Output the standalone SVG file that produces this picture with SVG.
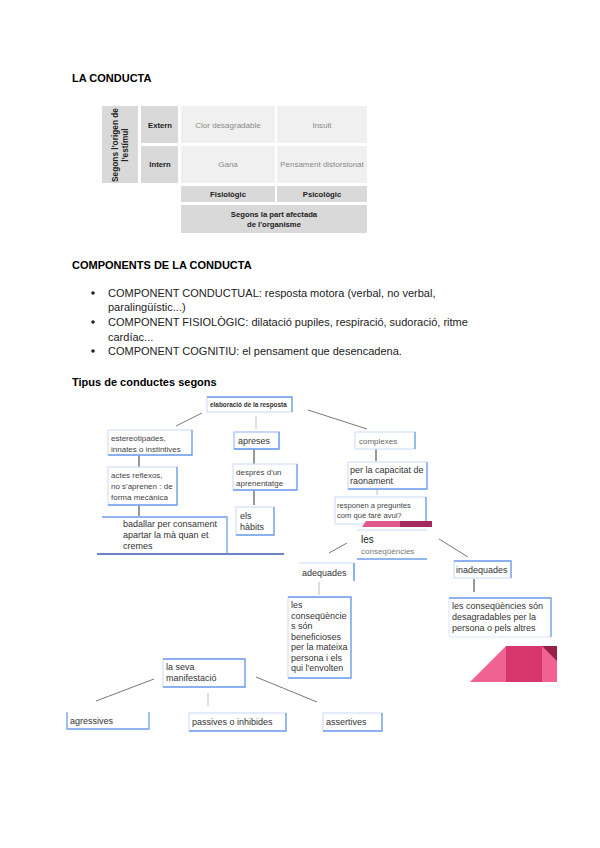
<svg xmlns="http://www.w3.org/2000/svg" width="600" height="848" viewBox="0 0 600 848">
<style>
text{font-family:"Liberation Sans",Arial,sans-serif;}
.h{font-size:11px;font-weight:bold;fill:#000;}
.p{font-size:11px;fill:#222;}
.tb{font-size:7.7px;font-weight:bold;fill:#222;}
.tl{font-size:8px;fill:#8a8a8a;}
.dk{fill:#d9d9d9;}
.lt{fill:#f0f0f0;}
.box{fill:#fff;stroke:#c9daf8;stroke-width:1;}
.edge{fill:none;stroke:#6d9eeb;stroke-width:1.3;}
.t{font-size:9px;fill:#333;}
.ts{font-size:8px;fill:#444;}
.c{stroke:#555;stroke-width:0.8;fill:none;}
.cv{stroke:#555;stroke-width:1.2;fill:none;}
.cl{stroke:#c8c8c8;stroke-width:1.2;fill:none;}
</style>
<rect width="600" height="848" fill="#fff"/>

<text class="h" x="72" y="82">LA CONDUCTA</text>

<g id="table">
  <rect class="dk" x="102" y="106" width="36" height="77"/>
  <rect class="dk" x="141" y="106" width="37" height="37"/>
  <rect class="dk" x="141" y="146" width="37" height="37"/>
  <rect class="lt" x="181" y="106" width="94" height="37"/>
  <rect class="lt" x="277" y="106" width="90" height="37"/>
  <rect class="lt" x="181" y="146" width="94" height="37"/>
  <rect class="lt" x="277" y="146" width="90" height="37"/>
  <rect class="dk" x="181" y="186" width="94" height="16"/>
  <rect class="dk" x="277" y="186" width="90" height="16"/>
  <rect class="dk" x="181" y="205" width="186" height="28"/>
  <g transform="translate(120,145) rotate(-90)">
    <text class="tb" x="0" y="-2" text-anchor="middle" style="font-size:8.3px">Segons l'origen de</text>
    <text class="tb" x="0" y="7.5" text-anchor="middle" style="font-size:8.3px">l'estímul</text>
  </g>
  <text class="tb" x="160" y="128" text-anchor="middle">Extern</text>
  <text class="tb" x="160" y="167" text-anchor="middle">Intern</text>
  <text class="tl" x="228" y="128" text-anchor="middle">Clor desagradable</text>
  <text class="tl" x="322" y="128" text-anchor="middle">Insult</text>
  <text class="tl" x="228" y="167" text-anchor="middle">Gana</text>
  <text class="tl" x="322" y="167" text-anchor="middle">Pensament distorsionat</text>
  <text class="tb" x="228" y="197" text-anchor="middle">Fisiològic</text>
  <text class="tb" x="322" y="197" text-anchor="middle">Psicològic</text>
  <text class="tb" x="274" y="217" text-anchor="middle">Segons la part afectada</text>
  <text class="tb" x="274" y="227" text-anchor="middle">de l'organisme</text>
</g>

<text class="h" x="72" y="269">COMPONENTS DE LA CONDUCTA</text>
<g id="bullets">
  <circle cx="93" cy="293" r="1.8" fill="#222"/>
  <text class="p" x="108" y="297">COMPONENT CONDUCTUAL: resposta motora (verbal, no verbal,</text>
  <text class="p" x="108" y="311">paralingüístic...)</text>
  <circle cx="93" cy="322" r="1.8" fill="#222"/>
  <text class="p" x="108" y="326">COMPONENT FISIOLÒGIC: dilatació pupiles, respiració, sudoració, ritme</text>
  <text class="p" x="108" y="341">cardíac...</text>
  <circle cx="93" cy="351" r="1.8" fill="#222"/>
  <text class="p" x="108" y="355">COMPONENT COGNITIU: el pensament que desencadena.</text>
</g>

<text class="h" x="72" y="386">Tipus de conductes segons</text>

<g id="connectors">
  <line class="c" x1="202" y1="413" x2="176" y2="426"/>
  <line class="cl" x1="256" y1="416" x2="256" y2="429"/>
  <line class="c" x1="308" y1="410" x2="367" y2="429"/>
  <line class="cv" x1="139" y1="455" x2="139" y2="467"/>
  <line class="cv" x1="139" y1="505" x2="139" y2="516"/>
  <line class="cv" x1="254" y1="449" x2="254" y2="464"/>
  <line class="cv" x1="254" y1="490" x2="254" y2="505"/>
  <line class="cv" x1="376" y1="449" x2="376" y2="461"/>
  <line class="cl" x1="377" y1="489" x2="377" y2="495"/>
  <line class="c" x1="347" y1="543" x2="329" y2="553"/>
  <line class="c" x1="439" y1="539" x2="468" y2="557"/>
  <line class="cl" x1="319" y1="582" x2="319" y2="595"/>
  <line class="cv" x1="474" y1="579" x2="474" y2="592"/>
  <line class="c" x1="154" y1="679" x2="96" y2="701"/>
  <line class="cl" x1="208" y1="693" x2="208" y2="706"/>
  <line class="c" x1="256" y1="677" x2="317" y2="702"/>
</g>

<g id="elaboracio">
  <rect class="box" x="207" y="397" width="85" height="15"/>
  <path class="edge" d="M207,397 H292 V412"/>
  <text x="210" y="407" style="font-size:6.4px;font-weight:bold;fill:#333">elaboració de la resposta</text>
</g>
<g id="estereotipades">
  <rect class="box" x="108" y="430" width="84" height="25"/>
  <path class="edge" d="M192,430 V455 H108"/>
  <text class="ts" x="111" y="441">estereotipades,</text>
  <text class="ts" x="111" y="452">innates o instintives</text>
</g>
<g id="actes">
  <rect class="box" x="108" y="467" width="69" height="38"/>
  <path class="edge" d="M177,467 V505 H108"/>
  <text class="ts" x="111" y="478">actes reflexos,</text>
  <text class="ts" x="111" y="489">no s'aprenen : de</text>
  <text class="ts" x="111" y="500">forma mecànica</text>
</g>
<g id="badallar">
  <path class="edge" d="M102,517 H227 V553"/>
  <line x1="97" y1="554" x2="284" y2="554" stroke="#3d5bb0" stroke-width="1.6"/>
  <text class="t" x="123" y="527">badallar per consament</text>
  <text class="t" x="123" y="538">apartar la mà quan et</text>
  <text class="t" x="123" y="549">cremes</text>
</g>
<g id="apreses">
  <rect class="box" x="234" y="432" width="45" height="17" style="stroke:#8fb0ee"/>
  <path class="edge" d="M279,432 V449 H234"/>
  <text class="t" x="238" y="444">apreses</text>
</g>
<g id="despres">
  <rect class="box" x="233" y="464" width="64" height="26"/>
  <path class="edge" d="M297,464 V490 H233"/>
  <text class="ts" x="236" y="475">després d'un</text>
  <text class="ts" x="236" y="486">aprenentatge</text>
</g>
<g id="habits">
  <rect class="box" x="236" y="507" width="38" height="28"/>
  <path class="edge" d="M274,507 V535 H236"/>
  <text class="t" x="240" y="519">els</text>
  <text class="t" x="240" y="530">hàbits</text>
</g>
<g id="complexes">
  <rect class="box" x="355" y="432" width="60" height="17"/>
  <path class="edge" d="M415,432 V449"/>
  <text class="ts" x="359" y="444" style="fill:#666">complexes</text>
</g>
<g id="capacitat">
  <rect class="box" x="348" y="462" width="79" height="27"/>
  <path class="edge" d="M427,462 V489 H348"/>
  <text class="t" x="350" y="473">per la capacitat de</text>
  <text class="t" x="350" y="484">raonament</text>
</g>
<g id="responen">
  <rect class="box" x="335" y="497" width="91" height="27"/>
  <path class="edge" d="M426,497 V524"/>
  <text x="337" y="508" style="font-size:7.6px;fill:#444">responen a preguntes</text>
  <text x="337" y="518" style="font-size:7.6px;fill:#444">com què faré avui?</text>
  <polygon points="366,521 400,521 400,527 362,527" fill="#e0588c"/>
  <rect x="400" y="521" width="32" height="6" fill="#a3285c"/>
</g>
<g id="consequencies">
  <line x1="357" y1="530" x2="427" y2="530" stroke="#c9daf8" stroke-width="1"/>
  <line x1="357" y1="559" x2="427" y2="559" stroke="#6d9eeb" stroke-width="1.3"/>
  <text x="361" y="543" style="font-size:10px;fill:#222">les</text>
  <text x="361" y="554" style="font-size:8px;fill:#777">conseqüències</text>
</g>
<g id="adequades">
  <line x1="299" y1="563" x2="354" y2="563" stroke="#c9daf8" stroke-width="1"/>
  <line x1="354" y1="563" x2="354" y2="581" stroke="#6d9eeb" stroke-width="1.6"/>
  <text class="t" x="302" y="576">adequades</text>
</g>
<g id="beneficioses">
  <rect class="box" x="288" y="597" width="63" height="81"/>
  <path class="edge" d="M288,597 H351 V678 H288"/>
  <text class="t" x="291" y="608">les</text>
  <text class="t" x="291" y="618.5">conseqüèncie</text>
  <text class="t" x="291" y="629">s són</text>
  <text class="t" x="291" y="639.5">beneficioses</text>
  <text class="t" x="291" y="650">per la mateixa</text>
  <text class="t" x="291" y="660.5">persona i els</text>
  <text class="t" x="291" y="671">qui l'envolten</text>
</g>
<g id="inadequades">
  <rect class="box" x="454" y="561" width="57" height="17"/>
  <path class="edge" d="M454,561 H511 V578"/>
  <text class="t" x="456" y="573">inadequades</text>
</g>
<g id="desagradables">
  <rect class="box" x="449" y="598" width="102" height="39" style="stroke:#dbe6fa"/>
  <path class="edge" d="M449,598 H551 V637"/>
  <text class="t" x="452" y="609">les conseqüències són</text>
  <text class="t" x="452" y="620">desagradables per la</text>
  <text class="t" x="452" y="631">persona o pels altres</text>
</g>
<g id="pink-shape">
  <polygon points="470,682 506,646 506,682" fill="#f06292"/>
  <rect x="506" y="646" width="36" height="36" fill="#d6366b"/>
  <rect x="542" y="646" width="15" height="36" fill="#f06292"/>
  <polygon points="542,646 557,646 557,661" fill="#972049"/>
</g>
<g id="manifestacio">
  <rect class="box" x="163" y="659" width="82" height="28"/>
  <path class="edge" d="M163,659 H245 V687 H163"/>
  <text class="t" x="166" y="670">la seva</text>
  <text class="t" x="166" y="681">manifestació</text>
</g>
<g id="agressives">
  <rect class="box" x="67" y="712" width="82" height="17" style="stroke:#fff"/>
  <path class="edge" d="M67,712 V729 H149 V712"/>
  <text class="t" x="70" y="724">agressives</text>
</g>
<g id="passives">
  <rect class="box" x="189" y="713" width="97" height="18"/>
  <path class="edge" d="M286,713 V731 H189"/>
  <text class="t" x="192" y="725">passives o inhibides</text>
</g>
<g id="assertives">
  <rect class="box" x="323" y="713" width="59" height="18"/>
  <path class="edge" d="M382,713 V731 H323"/>
  <text class="t" x="326" y="725">assertives</text>
</g>
</svg>
